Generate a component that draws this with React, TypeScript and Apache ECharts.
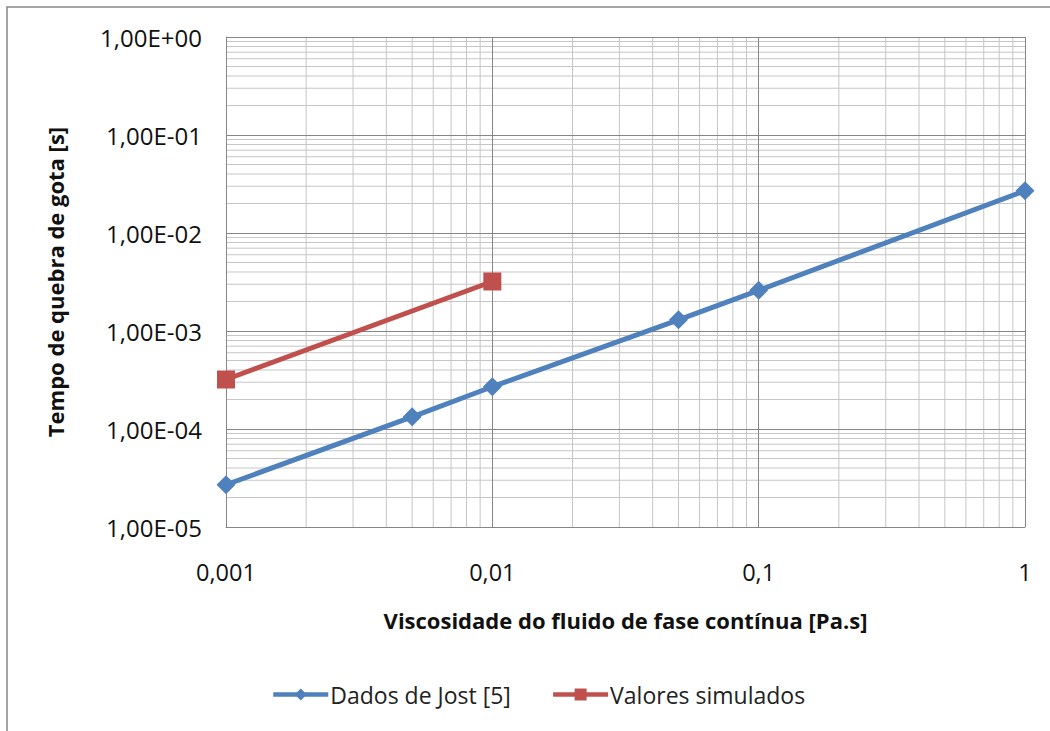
import React, { useEffect, useRef } from "react";
import * as echarts from "echarts";

const jostX = [0.001, 0.005, 0.01, 0.05, 0.1, 1];
const jostY = [2.7e-5, 1.33e-4, 2.7e-4, 1.3e-3, 2.6e-3, 2.7e-2];
const simX = [0.001, 0.01];
const simY = [3.2e-4, 3.2e-3];

const xMin = 0.001;
const xMax = 1;
const yMin = 1e-5;
const yMax = 1;

const minorX = [
  0.002, 0.003, 0.004, 0.005, 0.006, 0.007, 0.008, 0.009,
  0.02, 0.03, 0.04, 0.05, 0.06, 0.07, 0.08, 0.09,
  0.2, 0.3, 0.4, 0.5, 0.6, 0.7, 0.8, 0.9,
];
const minorY = [
  2e-5, 3e-5, 4e-5, 5e-5, 6e-5, 7e-5, 8e-5, 9e-5,
  2e-4, 3e-4, 4e-4, 5e-4, 6e-4, 7e-4, 8e-4, 9e-4,
  2e-3, 3e-3, 4e-3, 5e-3, 6e-3, 7e-3, 8e-3, 9e-3,
  2e-2, 3e-2, 4e-2, 5e-2, 6e-2, 7e-2, 8e-2, 9e-2,
  2e-1, 3e-1, 4e-1, 5e-1, 6e-1, 7e-1, 8e-1, 9e-1,
];

const FONT = "'Open Sans', 'Noto Sans', sans-serif";

function fmtY(v: number): string {
  const e = Math.round(Math.log10(v));
  const a = Math.abs(e);
  return "1,00E" + (e >= 0 ? "+" : "-") + (a < 10 ? "0" : "") + a;
}
function fmtX(v: number): string {
  return String(Number(v.toPrecision(6))).replace(".", ",");
}

export default function App() {
  const ref = useRef<HTMLDivElement>(null);
  useEffect(() => {
    if (!ref.current) return;
    const chart = echarts.init(ref.current, null, { renderer: "svg" });
    const majorColor = "#868686";
    const minorColor = "#c6c6c6";
    const gridLine = (data: number[][]) => ({
      type: "line",
      data,
      z: 1,
      silent: true,
      symbol: "none",
      showSymbol: false,
      clip: true,
      lineStyle: { color: minorColor, width: 1 },
      emphasis: { disabled: true },
      tooltip: { show: false },
    });
    chart.setOption({
      animation: false,
      backgroundColor: "#ffffff",
      textStyle: { fontFamily: FONT },
      graphic: [
        {
          type: "rect",
          shape: { x: 7, y: 7, width: 1060, height: 740 },
          style: { fill: "none", stroke: "#868686", lineWidth: 1.5 },
          silent: true,
        },
      ],
      grid: { left: 226, top: 37, right: 25, bottom: 204, containLabel: false },
      legend: {
        left: 266,
        top: 678,
        itemWidth: 55,
        itemHeight: 15,
        itemGap: 40,
        lineStyle: { width: 4.5 },
        textStyle: { fontFamily: FONT, fontSize: 23, color: "#222", padding: [0, 0, 0, -3] },
        data: ["Dados de Jost [5]", "Valores simulados"],
      },
      xAxis: {
        type: "log",
        logBase: 10,
        min: xMin,
        max: xMax,
        name: "Viscosidade do fluido de fase contínua [Pa.s]",
        nameLocation: "middle",
        nameGap: 82,
        nameTextStyle: { fontFamily: FONT, fontSize: 22, fontWeight: "bold", color: "#111" },
        axisLine: { show: true, lineStyle: { color: majorColor, width: 1 } },
        axisTick: { show: false },
        axisLabel: {
          formatter: fmtX,
          margin: 33,
          fontFamily: FONT,
          fontSize: 23.5,
          color: "#111",
        },
        splitLine: { show: true, lineStyle: { color: majorColor, width: 1 } },
        z: 2,
      },
      yAxis: {
        type: "log",
        logBase: 10,
        min: yMin,
        max: yMax,
        name: "Tempo de quebra de gota [s]",
        nameLocation: "middle",
        nameGap: 160,
        nameRotate: 90,
        nameTextStyle: { fontFamily: FONT, fontSize: 22, fontWeight: "bold", color: "#111" },
        axisLine: { show: true, lineStyle: { color: majorColor, width: 1 } },
        axisTick: { show: false },
        axisLabel: {
          formatter: fmtY,
          margin: 24,
          fontFamily: FONT,
          fontSize: 24,
          color: "#111",
        },
        splitLine: { show: true, lineStyle: { color: majorColor, width: 1 } },
        z: 2,
      },
      series: [
        ...minorX.map((v) => gridLine([[v, yMin], [v, yMax]])),
        ...minorY.map((v) => gridLine([[xMin, v], [xMax, v]])),
        {
          name: "Dados de Jost [5]",
          type: "line",
          z: 3,
          data: jostX.map((x, i) => [x, jostY[i]]),
          symbol: "diamond",
          symbolSize: 19,
          itemStyle: { color: "#4F81BD" },
          lineStyle: { color: "#4F81BD", width: 5 },
        },
        {
          name: "Valores simulados",
          type: "line",
          z: 3,
          data: simX.map((x, i) => [x, simY[i]]),
          symbol: "rect",
          symbolSize: 18,
          itemStyle: { color: "#C0504D" },
          lineStyle: { color: "#C0504D", width: 5 },
        },
      ],
    });
    return () => chart.dispose();
  }, []);
  return (
    <div
      ref={ref}
      style={{ position: "fixed", left: 0, top: 0, width: 1050, height: 731, background: "#fff" }}
    />
  );
}
